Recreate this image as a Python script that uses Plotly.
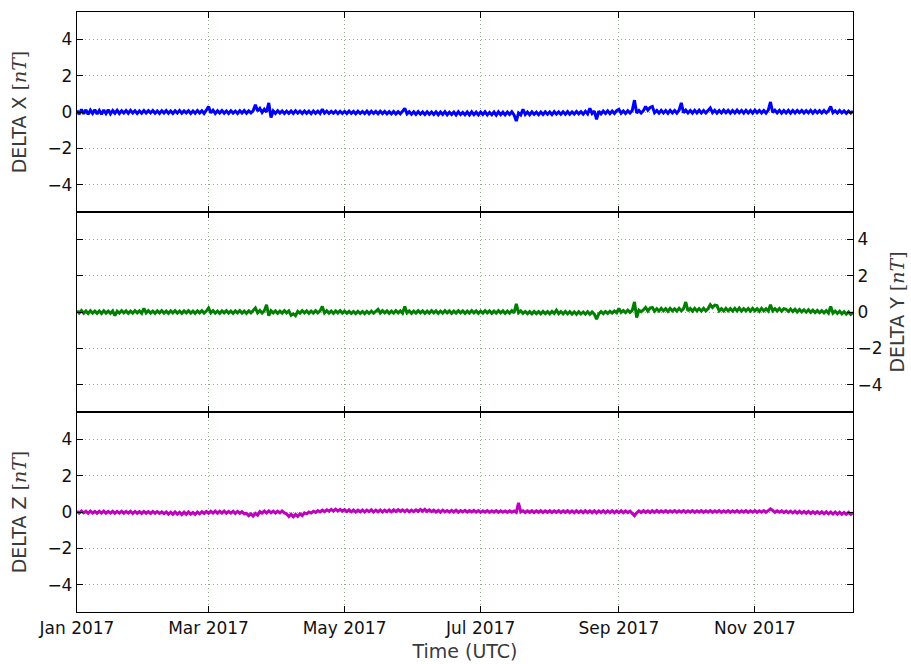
import pandas as pd
import plotly.graph_objects as go
from plotly.subplots import make_subplots

# daily samples from 2017-01-01 through 2017-12-15
dates = pd.date_range("2017-01-01", periods=349, freq="D")

delta_x = [
    0.08, -0.12, 0.14, -0.1, 0.12, -0.13, 0.1, -0.08, 0.13, -0.11, 0.09, -0.12, 0.11, -0.09, 0.12, -0.1, 0.08, -0.07, 0.09, -0.08,
    0.07, -0.06, 0.08, -0.07, 0.09, -0.06, 0.07, -0.08, 0.06, -0.07, 0.08, -0.06, 0.07, -0.05, 0.08, -0.07, 0.06, -0.08, 0.07, -0.06,
    0.08, -0.07, 0.06, -0.08, 0.07, -0.06, 0.08, -0.07, 0.06, -0.05, 0.07, -0.08, 0.06, -0.07, 0.08, -0.06, 0.07, -0.08, 0.1, 0.3,
    -0.05, 0.1, -0.08, 0.07, -0.06, 0.08, -0.07, 0.06, -0.08, 0.07, -0.06, 0.05, -0.08, 0.07, -0.06, 0.08, -0.07, 0.06, -0.05, 0.07,
    0.4, 0.05, 0.2, -0.02, 0.15, 0.0, 0.5, -0.3, 0.06, -0.08, 0.07, -0.06, 0.06, -0.08, 0.05, -0.07, 0.06, -0.08, 0.07, -0.06,
    0.05, -0.08, 0.06, -0.07, 0.05, -0.09, 0.06, -0.07, 0.05, -0.08, 0.15, -0.06, 0.05, -0.08, 0.04, -0.07, 0.05, -0.09, 0.04, -0.08,
    0.04, -0.09, 0.05, -0.08, 0.03, -0.1, 0.04, -0.08, 0.03, -0.09, 0.05, -0.1, 0.04, -0.08, 0.03, -0.1, 0.04, -0.09, 0.03, -0.1,
    0.02, -0.1, 0.03, -0.11, 0.02, -0.1, 0.04, 0.2, -0.1, 0.02, -0.12, 0.01, -0.13, 0.02, -0.12, 0.0, -0.14, 0.01, -0.13, 0.0,
    -0.14, 0.01, -0.15, 0.0, -0.13, 0.02, -0.15, -0.01, -0.14, 0.0, -0.16, 0.01, -0.14, -0.02, -0.15, 0.0, -0.16, 0.01, -0.15, -0.01,
    -0.16, 0.0, -0.14, 0.01, -0.16, -0.02, -0.15, 0.0, -0.17, 0.01, -0.15, -0.01, -0.16, 0.0, -0.14, 0.01, -0.16, -0.5, -0.05, -0.16,
    0.15, -0.14, 0.0, -0.15, 0.01, -0.13, -0.01, -0.15, 0.0, -0.14, 0.01, -0.13, 0.0, -0.14, 0.02, -0.12, 0.0, -0.13, 0.01, -0.12,
    0.02, -0.12, 0.01, -0.11, 0.03, -0.1, 0.02, -0.12, 0.04, -0.1, 0.2, -0.08, 0.05, -0.4, 0.04, -0.1, 0.05, -0.08, 0.06, -0.09,
    0.05, -0.08, 0.07, 0.15, -0.07, 0.06, -0.08, 0.07, -0.06, 0.08, 0.65, -0.05, 0.08, -0.06, 0.07, 0.3, 0.1, 0.25, 0.3, -0.04,
    0.08, -0.06, 0.09, -0.05, 0.08, -0.07, 0.09, -0.05, 0.08, -0.06, 0.1, 0.5, -0.04, 0.1, -0.05, 0.08, -0.06, 0.09, -0.05, 0.1,
    -0.05, 0.08, -0.06, 0.1, 0.22, -0.04, 0.09, -0.06, 0.08, -0.05, 0.1, -0.04, 0.09, -0.06, 0.08, -0.05, 0.1, -0.04, 0.08, -0.06,
    0.09, -0.05, 0.08, -0.06, 0.1, -0.04, 0.09, -0.05, 0.08, -0.06, 0.1, 0.55, -0.03, 0.1, -0.05, 0.09, -0.06, 0.08, -0.05, 0.09,
    -0.06, 0.08, -0.05, 0.09, -0.04, 0.08, -0.06, 0.07, -0.05, 0.09, -0.06, 0.08, -0.05, 0.07, -0.06, 0.08, -0.05, 0.07, 0.3, -0.04,
    0.07, -0.06, 0.08, -0.05, 0.06, -0.07, 0.05, -0.06, 0.04,
]

delta_y = [
    0.07, -0.06, 0.08, -0.07, 0.06, -0.08, 0.07, -0.06, 0.05, -0.07, 0.06, -0.08, 0.07, -0.06, 0.05, -0.07, 0.06, -0.2, 0.05, -0.06,
    0.07, -0.05, 0.06, -0.07, 0.05, -0.06, 0.07, -0.05, 0.06, -0.07, 0.2, -0.05, 0.07, -0.06, 0.05, -0.07, 0.06, -0.05, 0.07, -0.06,
    0.05, -0.07, 0.06, -0.05, 0.07, -0.06, 0.05, -0.07, 0.06, -0.05, 0.07, -0.06, 0.05, -0.07, 0.06, -0.05, 0.07, -0.06, 0.05, 0.22,
    -0.05, 0.07, -0.06, 0.05, -0.07, 0.06, -0.05, 0.07, -0.06, 0.05, -0.07, 0.06, -0.05, 0.07, -0.06, 0.05, -0.07, 0.06, -0.05, 0.07,
    0.22, -0.05, 0.08, -0.06, 0.07, 0.4, -0.2, 0.07, -0.05, 0.06, -0.07, 0.05, -0.06, 0.07, -0.05, 0.06, -0.18, -0.1, -0.2, 0.04,
    -0.06, 0.07, -0.05, 0.06, -0.07, 0.05, -0.06, 0.07, -0.05, 0.06, 0.3, -0.05, 0.07, -0.06, 0.05, -0.07, 0.06, -0.05, 0.07, -0.06,
    0.05, -0.07, 0.04, -0.08, 0.03, -0.09, 0.04, -0.08, 0.03, -0.09, 0.04, -0.08, 0.05, -0.07, 0.06, 0.15, -0.06, 0.07, -0.05, 0.06,
    -0.07, 0.05, -0.06, 0.07, -0.05, 0.06, -0.07, 0.3, -0.05, 0.06, -0.07, 0.05, -0.06, 0.07, -0.05, 0.06, -0.07, 0.05, -0.06, 0.07,
    -0.05, 0.06, -0.07, 0.05, -0.06, 0.07, -0.05, 0.06, -0.07, 0.05, -0.06, 0.07, -0.05, 0.06, -0.07, 0.05, -0.06, 0.07, -0.05, 0.06,
    -0.07, 0.05, -0.06, 0.07, -0.05, 0.06, -0.07, 0.05, -0.06, 0.07, -0.05, 0.06, -0.07, 0.05, -0.06, 0.07, -0.05, 0.45, -0.04, 0.06,
    -0.08, 0.03, -0.09, 0.02, -0.1, 0.03, -0.09, 0.02, -0.1, 0.03, -0.09, 0.02, -0.1, 0.03, -0.08, 0.1, -0.09, 0.02, -0.1, 0.03,
    -0.1, 0.02, -0.11, 0.01, -0.12, 0.02, -0.11, 0.0, -0.12, 0.01, -0.13, 0.0, -0.12, -0.4, -0.1, 0.02, -0.09, 0.03, -0.08, 0.04,
    -0.06, 0.06, -0.04, 0.2, -0.02, 0.08, -0.03, 0.1, -0.02, 0.09, 0.55, -0.3, 0.1, 0.02, 0.12, 0.25, 0.05, 0.22, 0.25, 0.04,
    0.18, 0.05, 0.2, 0.06, 0.18, 0.04, 0.2, 0.06, 0.17, 0.05, 0.2, 0.06, 0.18, 0.55, 0.06, 0.19, 0.05, 0.2, 0.06, 0.18,
    0.05, 0.2, 0.06, 0.18, 0.4, 0.25, 0.38, 0.35, 0.06, 0.18, 0.05, 0.2, 0.06, 0.18, 0.05, 0.2, 0.06, 0.22, 0.05, 0.18,
    0.06, 0.19, 0.05, 0.2, 0.06, 0.18, 0.04, 0.2, 0.06, 0.17, 0.05, 0.4, 0.06, 0.18, 0.05, 0.19, 0.04, 0.18, 0.15, 0.03,
    0.16, 0.02, 0.15, 0.0, 0.14, 0.01, 0.12, -0.01, 0.12, -0.02, 0.1, -0.03, 0.09, -0.04, 0.08, -0.05, 0.07, -0.06, 0.3, -0.06,
    0.05, -0.08, 0.04, -0.1, 0.02, -0.12, 0.0, -0.13, -0.02,
]

delta_z = [
    0.04, -0.06, 0.05, -0.05, 0.04, -0.07, 0.05, -0.06, 0.03, -0.07, 0.04, -0.06, 0.05, -0.07, 0.03, -0.06, 0.04, -0.07, 0.03, -0.06,
    0.04, -0.07, 0.03, -0.06, 0.04, -0.08, 0.03, -0.07, 0.02, -0.08, 0.03, -0.07, 0.02, -0.08, 0.03, -0.07, 0.02, -0.08, 0.01, -0.09,
    0.0, -0.12, -0.01, -0.13, 0.0, -0.12, -0.02, -0.14, -0.01, -0.13, 0.0, -0.12, -0.02, -0.13, 0.0, -0.1, 0.02, -0.08, 0.03, -0.07,
    0.04, -0.06, 0.05, -0.07, 0.04, -0.06, 0.05, -0.07, 0.03, -0.06, 0.04, -0.08, 0.03, -0.07, 0.02, -0.1, -0.08, -0.2, -0.1, -0.22,
    -0.08, -0.18, 0.02, -0.06, 0.05, -0.05, 0.06, -0.04, 0.05, -0.06, 0.04, -0.05, 0.06, -0.05, -0.1, -0.25, -0.12, -0.26, -0.13, -0.24,
    -0.1, -0.2, -0.05, -0.1, 0.0, -0.06, 0.04, -0.02, 0.08, 0.0, 0.1, 0.02, 0.12, 0.04, 0.14, 0.05, 0.15, 0.06, 0.14, 0.05,
    0.13, 0.02, 0.12, 0.01, 0.11, 0.0, 0.1, 0.01, 0.11, 0.0, 0.1, 0.02, 0.12, 0.0, 0.1, 0.01, 0.11, 0.0, 0.1, 0.02,
    0.11, 0.01, 0.12, 0.02, 0.13, 0.03, 0.12, 0.02, 0.11, 0.01, 0.1, 0.02, 0.12, 0.03, 0.14, 0.04, 0.15, 0.03, 0.12, 0.02,
    0.1, 0.0, 0.09, -0.01, 0.1, 0.0, 0.08, -0.01, 0.09, 0.0, 0.1, -0.02, 0.08, 0.0, 0.09, -0.01, 0.08, 0.0, 0.09, -0.01,
    0.08, -0.02, 0.07, -0.01, 0.08, -0.02, 0.07, -0.01, 0.08, -0.02, 0.07, -0.01, 0.06, -0.02, 0.07, -0.01, 0.06, -0.02, 0.5, 0.0,
    0.07, -0.03, 0.06, -0.02, 0.07, -0.03, 0.06, -0.02, 0.07, -0.03, 0.06, -0.02, 0.07, -0.03, 0.06, -0.02, 0.07, -0.03, 0.06, -0.02,
    0.07, -0.03, 0.06, -0.04, 0.07, -0.03, 0.06, -0.04, 0.07, -0.03, 0.06, -0.04, 0.07, -0.05, 0.06, -0.03, 0.07, -0.04, 0.06, -0.03,
    0.07, -0.04, 0.06, -0.03, 0.07, -0.04, 0.06, -0.03, 0.05, -0.05, -0.2, -0.04, 0.06, -0.03, 0.07, -0.02, 0.06, -0.03, 0.07, -0.02,
    0.08, -0.02, 0.07, -0.01, 0.08, -0.02, 0.07, -0.01, 0.08, -0.02, 0.07, -0.01, 0.08, -0.02, 0.07, -0.01, 0.08, -0.02, 0.07, -0.01,
    0.08, -0.02, 0.07, -0.01, 0.08, -0.02, 0.07, -0.01, 0.08, -0.02, 0.07, -0.01, 0.08, -0.02, 0.07, -0.01, 0.08, -0.02, 0.07, -0.01,
    0.08, -0.02, 0.07, -0.01, 0.08, -0.02, 0.07, -0.01, 0.08, -0.02, 0.07, 0.17, 0.08, -0.02, 0.07, -0.01, 0.06, -0.03, 0.05, -0.04,
    0.05, -0.05, 0.04, -0.06, 0.04, -0.06, 0.03, -0.07, 0.03, -0.08, 0.02, -0.08, 0.02, -0.09, 0.01, -0.1, 0.01, -0.1, 0.0, -0.11,
    0.0, -0.12, -0.01, -0.12, -0.02, -0.13, -0.02, -0.13, -0.03,
]

y_tickvals = [-4, -2, 0, 2, 4]
y_ticktext = ["\u22124", "\u22122", "0", "2", "4"]
series_names = ["X", "Y", "Z"]
series_colors = ["#0000ff", "#008000", "#bf00bf"]

FONT = "DejaVu Sans, sans-serif"
UNIT = "<span style='font-family:DejaVu Serif'>[<i>nT</i>]</span>"

fig = make_subplots(rows=3, cols=1, shared_xaxes=True, vertical_spacing=0)

for r, (vals, col, name) in enumerate(zip([delta_x, delta_y, delta_z], series_colors, series_names), start=1):
    fig.add_trace(go.Scatter(x=dates, y=vals, mode="lines",
                             line=dict(color=col, width=3), showlegend=False,
                             name="DELTA " + name), row=r, col=1)

grid = dict(showgrid=True, gridcolor="#93a893", griddash="1px,3px", gridwidth=1)
axline = dict(showline=True, linecolor="black", linewidth=1.3, mirror="ticks",
              ticks="inside", ticklen=6, tickcolor="black", zeroline=False,
              automargin=False)

for r in range(1, 4):
    fig.update_xaxes(row=r, col=1, range=["2017-01-01", "2017-12-15"],
                     dtick="M2", tick0="2017-01-01", tickformat="%b %Y",
                     showticklabels=(r == 3), **grid, **axline)
    fig.update_yaxes(row=r, col=1, range=[-5.5, 5.5], tickvals=y_tickvals,
                     ticktext=y_ticktext, side=("right" if r == 2 else "left"),
                     title=dict(text="DELTA " + series_names[r - 1] + " " + UNIT,
                                standoff=(9 if r == 2 else 15),
                                font=dict(size=19, color="#3a3a3a")),
                     **grid, **axline)

fig.update_xaxes(row=3, col=1, title=dict(text="Time (UTC)", standoff=8,
                                          font=dict(size=19, color="#3a3a3a")))

fig.update_layout(
    width=911, height=664,
    margin=dict(l=77, r=58, t=12, b=52, autoexpand=False),
    paper_bgcolor="white", plot_bgcolor="white",
    font=dict(family=FONT, size=17, color="#111111"),
)

fig.write_html("out.html", config={"displayModeBar": False},
               post_script="document.body.style.margin='0';")
